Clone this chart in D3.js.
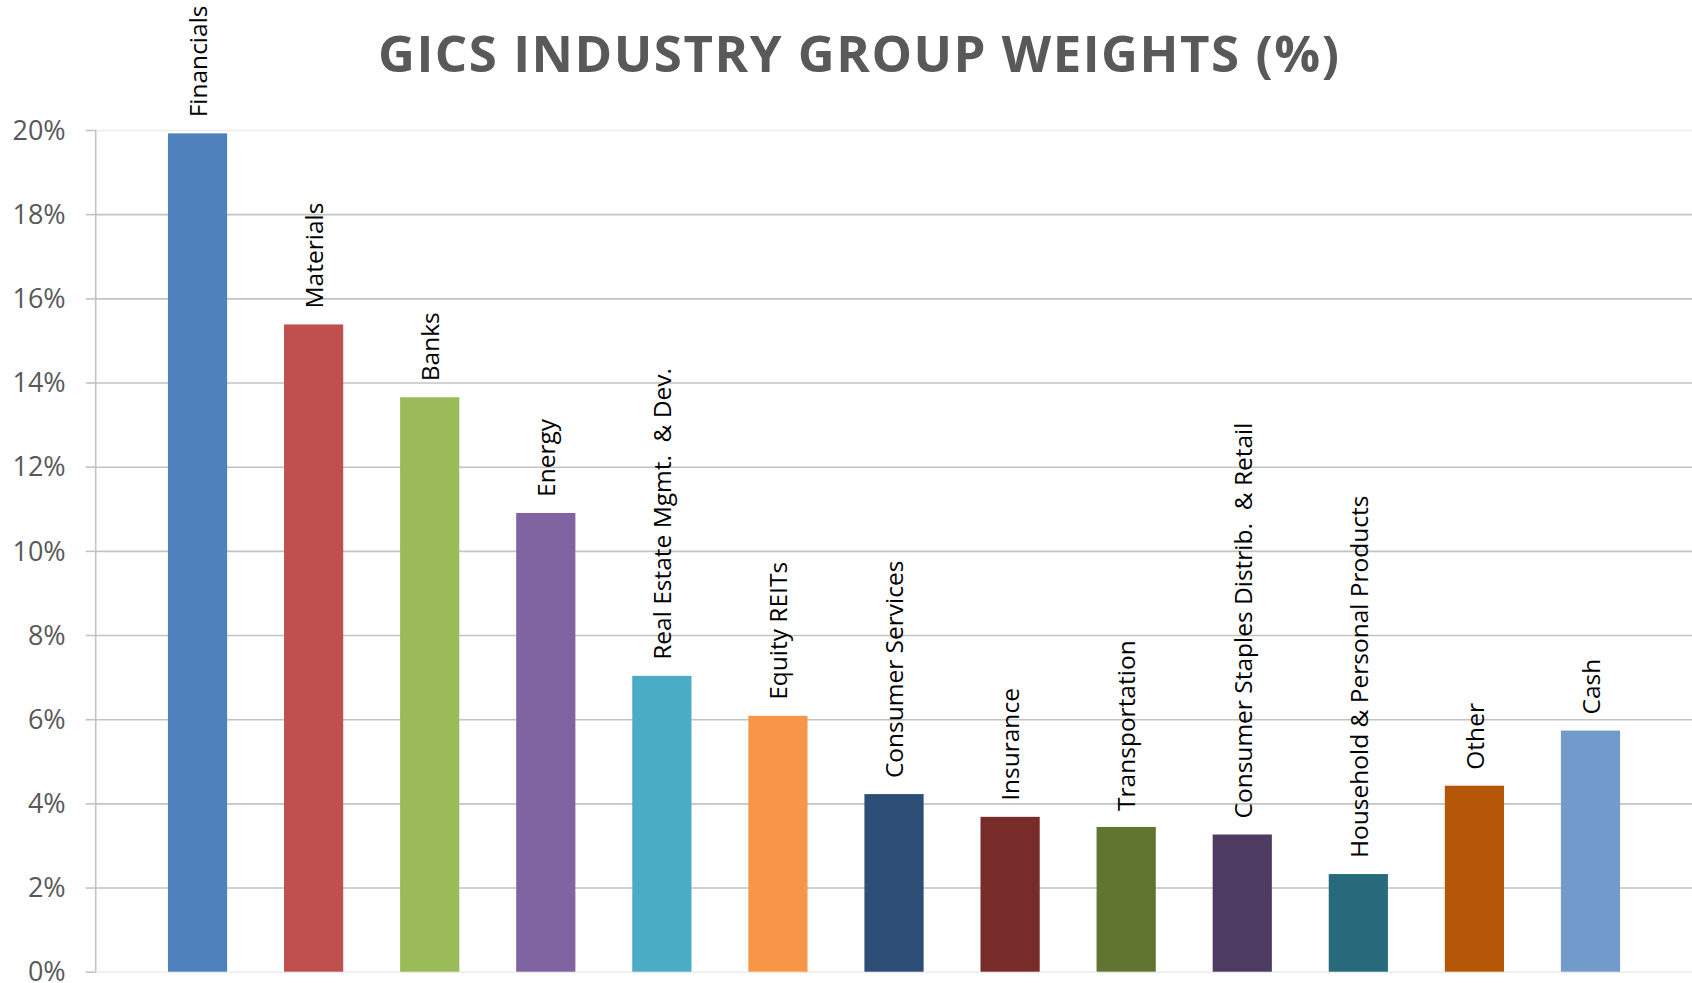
<!DOCTYPE html>
<html>
<head>
<meta charset="utf-8">
<script src="https://cdn.jsdelivr.net/npm/d3@7"></script>
<style>
  body { margin: 0; background: #fff; }
  svg { display: block; font-family: "Open Sans", sans-serif; }
</style>
</head>
<body>
<div id="chart"></div>
<script>
/* Chart data */
const categories = [
  "Financials", "Materials", "Banks", "Energy", "Real Estate Mgmt.  & Dev.",
  "Equity REITs", "Consumer Services", "Insurance", "Transportation",
  "Consumer Staples Distrib.  & Retail", "Household & Personal Products", "Other", "Cash"
];
const weights = [19.92, 15.38, 13.65, 10.9, 7.03, 6.08, 4.22, 3.68, 3.44, 3.26, 2.32, 4.42, 5.73];
const barColors = [
  "#4f81bd", "#c0504d", "#9bbb59", "#8064a2", "#4bacc6", "#f79646", "#2c4d75",
  "#772c2a", "#5f7530", "#4d3b62", "#276a7c", "#b65708", "#729aca"
];
const yTicks = [0, 2, 4, 6, 8, 10, 12, 14, 16, 18, 20];
const titleText = "GICS INDUSTRY GROUP WEIGHTS (%)";

const WIDTH = 1692;
const HEIGHT = 983;
const AXIS_X = 95.7;
const Y0 = 971.7, Y20 = 130;

const svg = d3.select("#chart").append("svg")
  .attr("width", WIDTH).attr("height", HEIGHT);

const y = d3.scaleLinear().domain([0, 20]).range([Y0, Y20]);
const x = d3.scaleBand().domain(categories)
  .range([139.5, 139.5 + 13 * 116.08])
  .paddingInner(0.49).paddingOuter(0.245);

// gridlines
const grid = svg.append("g").attr("transform", `translate(${AXIS_X},0)`)
  .call(d3.axisLeft(y).tickValues(yTicks).tickSize(-(WIDTH - AXIS_X)).tickFormat(""));
grid.select(".domain").remove();
grid.selectAll(".tick line")
  .attr("stroke", d => (d === 0 || d === 20) ? "#ececec" : "#c3c3c3")
  .attr("stroke-width", 1.6);

// axis with ticks and labels
const yAxis = svg.append("g").attr("transform", `translate(${AXIS_X},0)`)
  .call(d3.axisLeft(y).tickValues(yTicks).tickSize(10).tickPadding(20)
    .tickFormat(d => d + "%"));
yAxis.select(".domain").attr("stroke", "#c3c3c3").attr("stroke-width", 1.6)
  .attr("d", `M0,${Y20}V${Y0}`);
yAxis.selectAll(".tick line").attr("stroke", "#c3c3c3").attr("stroke-width", 1.6);
yAxis.selectAll(".tick text")
  .attr("fill", "#595959")
  .attr("dy", "0.34em")
  .style("font-size", "27px")
  .style("font-family", "'Open Sans', sans-serif");

// bars
svg.append("g").selectAll("rect")
  .data(categories)
  .enter()
  .append("rect")
  .attr("x", d => x(d))
  .attr("y", (d, i) => y(weights[i]))
  .attr("width", x.bandwidth())
  .attr("height", (d, i) => Y0 - y(weights[i]))
  .attr("fill", (d, i) => barColors[i]);

// category labels above the bars
svg.append("g").selectAll("text")
  .data(categories)
  .enter()
  .append("text")
  .attr("transform", (d, i) => `translate(${x(d) + x.bandwidth() / 2},${y(weights[i]) - 16}) rotate(-90)`)
  .attr("dy", "0.38em")
  .attr("text-anchor", "start")
  .style("font-size", "24.5px")
  .style("white-space", "pre")
  .attr("fill", "#000")
  .text(d => d);

// title, spaced out to the reference width
const title = svg.append("text")
  .attr("x", 378)
  .attr("y", 72.3)
  .attr("fill", "#595959")
  .style("font-size", "51px")
  .style("font-weight", 700)
  .text(titleText);
const rawW = title.node().getComputedTextLength();
const spacing = (961 - rawW) / (titleText.length - 1);
title.style("letter-spacing", spacing + "px");
</script>
</body>
</html>
